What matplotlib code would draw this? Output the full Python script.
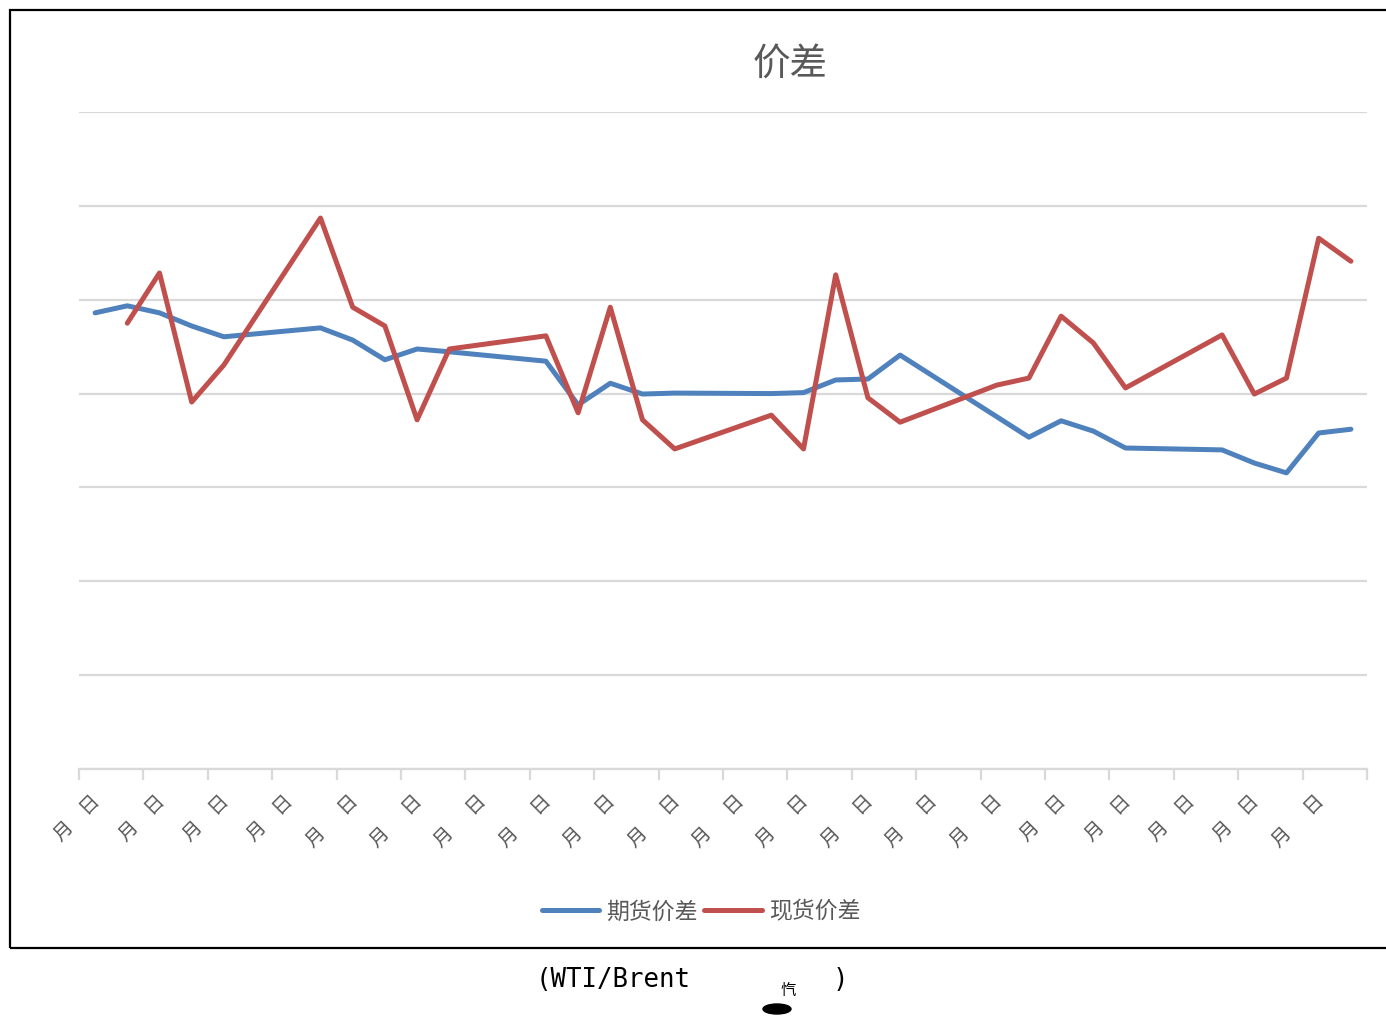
import matplotlib
matplotlib.use("Agg")
import matplotlib.pyplot as plt
import matplotlib.transforms as mtransforms
import numpy as np
from matplotlib.patches import Rectangle, Ellipse

plt.rcParams["font.family"] = ["Noto Sans CJK SC", "DejaVu Sans"]

# 40 daily categories; None = no value that day (line joins across the gap)
futures_spread = [
    -0.28, -0.13, -0.28, -0.56, -0.79, None, None, -0.60, -0.86, -1.28,
    -1.05, -1.11, None, None, -1.31, -2.24, -1.78, -2.01, -1.99, None,
    None, -2.00, -1.98, -1.71, -1.69, -1.18, None, None, None, -2.93,
    -2.58, -2.80, -3.16, None, None, -3.20, -3.48, -3.69, -2.84, -2.76,
]
spot_spread = [
    None, -0.50, 0.57, -2.18, -1.39, None, None, 1.74, -0.16, -0.56,
    -2.56, -1.05, None, None, -0.77, -2.41, -0.16, -2.56, -3.18, None,
    None, -2.46, -3.18, 0.53, -2.09, -2.61, None, None, -1.82, -1.67,
    -0.35, -0.92, -1.88, None, None, -0.75, -2.01, -1.67, 1.31, 0.82,
]
# date labels lost their digits in the source; only 月/日 survive
_short = "月    日"
_long = "月      日"
tick_labels = [_short] * 4 + [_long] * 11 + [_short] * 4 + [_long]
series_names = ["期货价差", "现货价差"]
y_grid = [-10, -8, -6, -4, -2, 0, 2, 4]

BLUE = "#4f81bd"
RED = "#c0504d"
GRID = "#d9d9d9"
TEXT = "#595959"

W, H = 1386, 1027
fig = plt.figure(figsize=(W / 100, H / 100), dpi=100)

# outer chart border
fig.patches.append(Rectangle((10 / W, 1 - 948 / H), 1.2, (948 - 10) / H,
                             transform=fig.transFigure, fill=False,
                             edgecolor="black", linewidth=1.6))

ax = fig.add_axes([79 / W, 1 - 769 / H, (1367 - 79) / W, (769 - 112) / H])


def _plot(vals, color, label):
    x = np.array([i for i, v in enumerate(vals) if v is not None])
    y = np.array([v for v in vals if v is not None])
    ax.plot(x, y, color=color, linewidth=3.6, label=label,
            solid_capstyle="round", solid_joinstyle="round", zorder=3)


_plot(futures_spread, BLUE, series_names[0])
_plot(spot_spread, RED, series_names[1])

ax.set_xlim(-0.5, len(futures_spread) - 0.5)
ax.set_ylim(y_grid[0], y_grid[-1])
ax.set_yticks(y_grid)
ax.set_yticklabels([])
ax.tick_params(axis="y", length=0)
ax.grid(axis="y", color=GRID, linewidth=1.6, zorder=0)
for s in ("top", "right", "left"):
    ax.spines[s].set_visible(False)
ax.spines["bottom"].set_color(GRID)
ax.spines["bottom"].set_linewidth(1.6)

ax.set_xticks(np.arange(-0.5, len(futures_spread), 2))
ax.set_xticklabels([])
ax.tick_params(axis="x", length=8, width=1.6, color=GRID)
ax.set_xticks(np.arange(0, len(futures_spread), 2), minor=True)
ax.set_xticklabels(tick_labels, minor=True, rotation=45, ha="right",
                   va="top", rotation_mode="anchor", fontsize=14, color=TEXT)
ax.tick_params(axis="x", which="minor", length=0, pad=16)
_shift = mtransforms.ScaledTranslation(-5 / 100, 0, fig.dpi_scale_trans)
for lbl in ax.get_xticklabels(minor=True):
    lbl.set_transform(lbl.get_transform() + _shift)

fig.text(790 / W, 1 - 64 / H, "价差", ha="center", va="center",
         fontsize=27, color=TEXT)

leg = fig.legend(loc="center", bbox_to_anchor=(701 / W, 1 - 912 / H),
                 ncol=2, frameon=False, fontsize=16.5, handlelength=2.5,
                 handletextpad=0.3, columnspacing=0.3)
for t in leg.get_texts():
    t.set_color(TEXT)

# caption under the chart
fig.text(536 / W, 1 - 980 / H, "(WTI/Brent", ha="left", va="center",
         fontsize=18.5, family="DejaVu Sans Mono", color="black")
fig.text(833 / W, 1 - 980 / H, ")", ha="left", va="center",
         fontsize=18.5, family="DejaVu Sans Mono", color="black")
fig.patches.append(Ellipse((777 / W, 1 - 1009 / H), 28 / W, 10 / H,
                           transform=fig.transFigure, color="black"))
fig.text(788 / W, 1 - 990 / H, "忾", ha="center", va="center",
         fontsize=11, color="black")

fig.savefig("out.png", dpi=100)
